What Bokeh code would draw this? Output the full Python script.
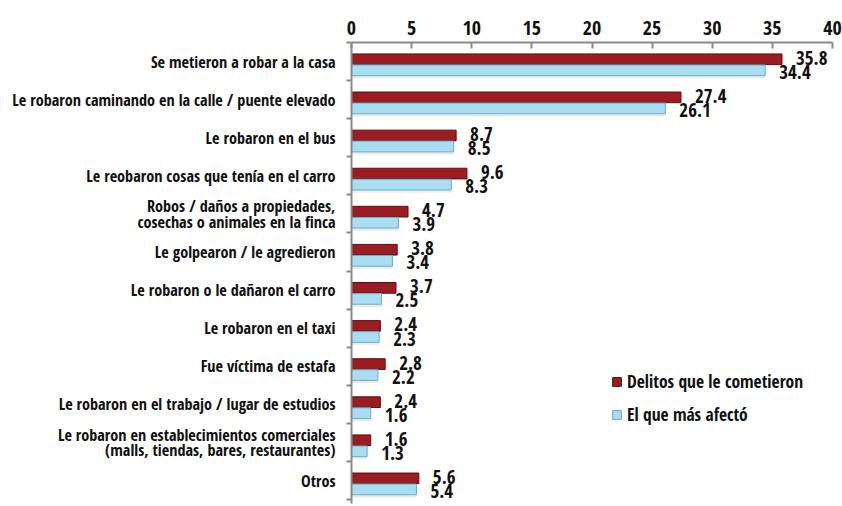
from bokeh.plotting import figure
from bokeh.models import (ColumnDataSource, Range1d, FixedTicker,
                          Legend, LegendItem)
from bokeh.core.properties import value
from bokeh.embed import file_html
from bokeh.resources import INLINE

categories = [
    "Se metieron a robar a la casa",
    "Le robaron caminando en la calle / puente elevado",
    "Le robaron en el bus",
    "Le reobaron cosas que tenía en el carro",
    "Robos / daños a propiedades,\ncosechas o animales en la finca",
    "Le golpearon / le agredieron",
    "Le robaron o le dañaron el carro",
    "Le robaron en el taxi",
    "Fue víctima de estafa",
    "Le robaron en el trabajo / lugar de estudios",
    "Le robaron en establecimientos comerciales\n(malls, tiendas, bares, restaurantes)",
    "Otros",
]
delitos = [35.8, 27.4, 8.7, 9.6, 4.7, 3.8, 3.7, 2.4, 2.8, 2.4, 1.6, 5.6]
afecto = [34.4, 26.1, 8.5, 8.3, 3.9, 3.4, 2.5, 2.3, 2.2, 1.6, 1.3, 5.4]
series_names = ["Delitos que le cometieron", "El que más afectó"]
x_ticks = [0, 5, 10, 15, 20, 25, 30, 35, 40]

FONT = "'Open Sans Condensed', 'Roboto Condensed', sans-serif"
RED = "#9b1c21"
RED_EDGE = "#5e0d10"
BLUE = "#a9ddf2"
BLUE_EDGE = "#6aaecb"

n = len(categories)
idx = list(range(n))

src = ColumnDataSource(dict(
    red_y=[i + 0.44 for i in idx],
    blue_y=[i + 0.73 for i in idx],
    shadow_y=[i + 0.80 for i in idx],
    red_ly=[i + 0.40 for i in idx],
    blue_ly=[i + 0.77 for i in idx],
    delitos=delitos,
    afecto=afecto,
    d_txt=[f"{v:.1f}" for v in delitos],
    a_txt=[f"{v:.1f}" for v in afecto],
))

p = figure(width=842, height=506, output_backend="svg", toolbar_location=None,
           x_range=Range1d(0, 40), y_range=Range1d(n + 0.1, 0),
           x_axis_location="above", min_border_left=351, min_border_right=10,
           min_border_top=42, min_border_bottom=3)
p.outline_line_color = None
p.xgrid.visible = False
p.ygrid.visible = False
p.background_fill_color = "white"

# soft shadow under the bar pairs
p.hbar(y="shadow_y", left=0, right="afecto", height=0.28, source=src,
       fill_color="#8c8c8c", fill_alpha=0.18, line_color=None)

r_red = p.hbar(y="red_y", left=0, right="delitos", height=0.28, source=src,
               fill_color=RED, line_color=RED_EDGE, line_width=1)
r_blue = p.hbar(y="blue_y", left=0, right="afecto", height=0.28, source=src,
                fill_color=BLUE, line_color=BLUE_EDGE, line_width=1)

p.text(x="delitos", y="red_ly", text="d_txt", source=src, x_offset=14,
       text_font=value(FONT), text_font_style="bold", text_font_size="19px",
       text_color="#111111", text_align="left", text_baseline="middle")
p.text(x="afecto", y="blue_ly", text="a_txt", source=src, x_offset=14,
       text_font=value(FONT), text_font_style="bold", text_font_size="19px",
       text_color="#111111", text_align="left", text_baseline="middle")

# top axis
xa = p.xaxis[0]
xa.ticker = FixedTicker(ticks=x_ticks)
xa.axis_line_color = "#8a8a8a"
xa.axis_line_width = 2
xa.major_tick_line_color = "#8a8a8a"
xa.major_tick_line_width = 2
xa.major_tick_in = 6
xa.major_tick_out = 0
xa.minor_tick_line_color = None
xa.major_label_text_font = FONT
xa.major_label_text_font_style = "bold"
xa.major_label_text_font_size = "20px"
xa.major_label_text_color = "#111111"
xa.major_label_standoff = 8

# left axis
ya = p.yaxis[0]
ya.ticker = FixedTicker(ticks=[i + 0.5 for i in idx], minor_ticks=list(range(n + 1)))
ya.major_label_overrides = {i + 0.5: categories[i] for i in idx}
ya.axis_line_color = "#8a8a8a"
ya.axis_line_width = 2
ya.major_tick_line_color = None
ya.major_tick_out = 0
ya.major_tick_in = 0
ya.minor_tick_line_color = "#8a8a8a"
ya.minor_tick_line_width = 2
ya.minor_tick_out = 5
ya.minor_tick_in = 0
ya.major_label_text_font = FONT
ya.major_label_text_font_style = "bold"
ya.major_label_text_font_size = "16.2px"
ya.major_label_text_line_height = 0.72
ya.major_label_text_color = "#111111"
ya.major_label_standoff = 11

legend = Legend(items=[LegendItem(label=series_names[0], renderers=[r_red]),
                       LegendItem(label=series_names[1], renderers=[r_blue])],
                location=(260, 77), orientation="vertical",
                border_line_color=None, background_fill_alpha=0,
                glyph_width=11, glyph_height=11, label_height=22,
                spacing=9, label_standoff=5, padding=4,
                label_text_font=FONT, label_text_font_style="bold",
                label_text_font_size="17.5px", label_text_color="#111111")
p.add_layout(legend, "center")

open("out.html", "w").write(file_html(p, INLINE))
